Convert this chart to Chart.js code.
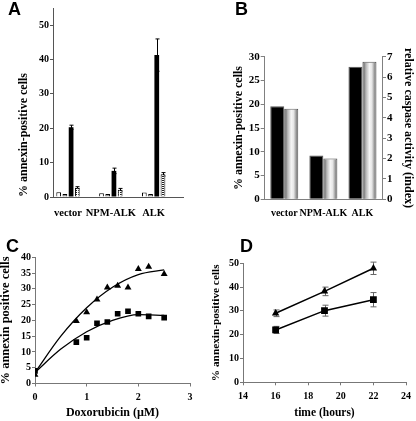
<!DOCTYPE html>
<html lang="en">
<head>
<meta charset="UTF-8">
<title>Annexin and caspase panels</title>
<script src="https://cdn.jsdelivr.net/npm/chart.js"></script>
<style>
  body { margin: 0; background: #fff; }
  #wrap { position: relative; width: 416px; height: 421px; overflow: hidden; }
  canvas { position: absolute; }
  .tag { position: absolute; font: bold 18px "Liberation Sans", Arial, sans-serif; line-height: 18px; }
</style>
</head>
<body>
<div id="wrap">
  <canvas id="chartA" width="208" height="230" style="left:0;top:0"></canvas>
  <canvas id="chartB" width="208" height="230" style="left:208px;top:0"></canvas>
  <canvas id="chartC" width="208" height="191" style="left:0;top:230px"></canvas>
  <canvas id="chartD" width="208" height="191" style="left:208px;top:230px"></canvas>
  <div class="tag" style="left:8px;top:0">A</div>
  <div class="tag" style="left:235px;top:0">B</div>
  <div class="tag" style="left:6px;top:237px">C</div>
  <div class="tag" style="left:240px;top:237px">D</div>
</div>
<script>
// panel A - annexin positive cells, 4 conditions per cell line
const catsA = ['vector', 'NPM-ALK', 'ALK'];
const openA = [1.4, 1.1, 1.3];
const greyA = [0.9, 0.9, 0.9];
const blackA = [20.3, 7.6, 41.3];
const blackErrA = [0.6, 0.8, 4.7];
const dotA = [2.7, 2.1, 6.6];
const dotErrA = [0.3, 0.4, 0.5];
const ticksA = [0, 10, 20, 30, 40, 50];

// panel B - annexin (left axis) and caspase index (right axis)
const catsB = ['vector', 'NPM-ALK', 'ALK'];
const annexinB = [19.6, 9.2, 27.9];
const caspaseB = [4.45, 2.0, 6.75];

// panel C - doxorubicin dose response
const doseC = [0, 0.8, 1.0, 1.2, 1.4, 1.6, 1.8, 2.0, 2.2, 2.5];
const triC = [2.8, 19.8, 22.6, 26.6, 30.4, 31.0, 30.4, 36.3, 37.0, 34.7];
const sqC = [4.0, 13.1, 14.5, 19.1, 19.5, 22.1, 22.9, 22.1, 21.3, 20.9];
// trend curves
const fitDoseC = [0, 0.5, 1.0, 1.5, 2.0, 2.5];
const triFitC = [3.5, 15.0, 24.0, 30.5, 34.5, 36.0];
const sqFitC = [3.5, 10.9, 16.4, 20.0, 21.8, 21.6];

// panel D - time course
const hoursD = [16, 19, 22];
const triD = [29.0, 38.2, 47.9];
const triErrD = [1.4, 1.8, 2.6];
const sqD = [22.0, 30.1, 34.7];
const sqErrD = [1.5, 2.3, 3.0];

Chart.defaults.font.family = '"Liberation Serif", "Times New Roman", serif';
Chart.defaults.font.weight = 'bold';
Chart.defaults.font.size = 10;
Chart.defaults.color = '#000';
Chart.defaults.animation = false;
Chart.defaults.plugins.legend.display = false;
Chart.defaults.plugins.tooltip.enabled = false;

const pts = (xs, ys) => ys.map((y, i) => ({ x: xs[i], y: y }));

// error bars drawn under the marks so bars hide the lower half
const errorBars = {
  id: 'errorBars',
  beforeDatasetsDraw(chart) {
    const ctx = chart.ctx;
    chart.data.datasets.forEach((ds, di) => {
      if (!ds.errors) return;
      const meta = chart.getDatasetMeta(di);
      const ys = chart.scales[meta.yAxisID];
      ctx.save();
      ctx.strokeStyle = ds.errorColor || '#000';
      ctx.lineWidth = 1;
      meta.data.forEach((el, i) => {
        const v = ds.data[i].y;
        const e = ds.errors[i];
        const top = ys.getPixelForValue(v + e);
        const bot = ys.getPixelForValue(v - e);
        const x = Math.round(el.x) + 0.5;
        const cap = ds.capWidth || 2;
        ctx.beginPath();
        ctx.moveTo(x, top); ctx.lineTo(x, bot);
        ctx.moveTo(x - cap, top); ctx.lineTo(x + cap, top);
        ctx.moveTo(x - cap, bot); ctx.lineTo(x + cap, bot);
        ctx.stroke();
      });
      ctx.restore();
    });
  }
};

// cylinder like shading for the grey bars of panel B
const shade = {
  id: 'shade',
  afterDatasetsDraw(chart) {
    const ctx = chart.ctx;
    chart.data.datasets.forEach((ds, di) => {
      if (!ds.shaded) return;
      chart.getDatasetMeta(di).data.forEach(el => {
        const p = el.getProps(['x', 'y', 'base', 'width'], true);
        const l = p.x - p.width / 2 + 1, r = p.x + p.width / 2 - 1;
        const g = ctx.createLinearGradient(l, 0, r, 0);
        g.addColorStop(0, '#6a6a6a');
        g.addColorStop(0.2, '#b5b5b5');
        g.addColorStop(0.5, '#f5f5f5');
        g.addColorStop(0.7, '#e6e6e6');
        g.addColorStop(1, '#7a7a7a');
        ctx.fillStyle = g;
        ctx.fillRect(l, p.y + 1, r - l, p.base - p.y - 1);
      });
    });
  }
};

function dotPattern() {
  const c = document.createElement('canvas');
  c.width = 3; c.height = 2;
  const g = c.getContext('2d');
  g.fillStyle = '#fff'; g.fillRect(0, 0, 3, 2);
  g.fillStyle = '#222'; g.fillRect(0, 0, 2, 1);
  return g.createPattern(c, 'repeat');
}

function yAxis(opts) {
  return Object.assign({
    grid: { display: true, drawOnChartArea: false, drawTicks: true, tickLength: 3, color: '#777' },
    border: { display: true, color: '#777' },
    ticks: { padding: 1 }
  }, opts);
}

// ---------- A ----------
new Chart(document.getElementById('chartA'), {
  type: 'bar',
  data: {
    datasets: [
      { data: pts([0, 1, 2], openA), backgroundColor: '#fff', borderColor: '#000', borderWidth: 1 },
      { data: pts([0, 1, 2], greyA), backgroundColor: '#999', borderColor: '#000', borderWidth: 1 },
      { data: pts([0, 1, 2], blackA), backgroundColor: '#000', errors: blackErrA, capWidth: 2 },
      { data: pts([0, 1, 2], dotA), backgroundColor: dotPattern(), borderColor: '#000', borderWidth: 1, errors: dotErrA, capWidth: 2 }
    ]
  },
  options: {
    responsive: false,
    layout: { padding: { top: 8, right: 25, left: 0, bottom: 0 } },
    datasets: { bar: { categoryPercentage: 0.58, barPercentage: 0.76 } },
    scales: {
      x: {
        type: 'linear', min: -0.35, max: 2.685, offset: false,
        afterBuildTicks: s => { s.ticks = catsA.map((c, i) => ({ value: i })); },
        afterFit: s => { s.height = 33; },
        grid: { display: false, drawTicks: false },
        border: { display: true, color: '#555' },
        ticks: { callback: v => catsA[v], autoSkip: false, maxRotation: 0, padding: 10, font: { size: 10.5 } }
      },
      y: yAxis({
        min: 0, max: 55,
        afterBuildTicks: s => { s.ticks = ticksA.map(v => ({ value: v })); },
        afterFit: s => { s.width = 53; },
        grid: { display: true, drawOnChartArea: false, drawTicks: true, tickLength: 3, color: '#555' },
        border: { display: true, color: '#555' },
        title: { display: true, text: '% annexin-positive cells', align: 'start',
                 font: { size: 12, lineHeight: 1 }, padding: { top: 18, bottom: 0 } }
      })
    }
  },
  plugins: [errorBars]
});

// ---------- B ----------
new Chart(document.getElementById('chartB'), {
  type: 'bar',
  data: {
    labels: catsB,
    datasets: [
      { data: annexinB, yAxisID: 'y', backgroundColor: '#000', borderColor: '#555', borderWidth: 1 },
      { data: caspaseB, yAxisID: 'y1', backgroundColor: '#ccc', borderColor: '#444', borderWidth: 1, shaded: true }
    ]
  },
  options: {
    responsive: false,
    layout: { padding: { top: 56.7, right: 0, left: 0, bottom: 0 } },
    datasets: { bar: { categoryPercentage: 0.716, barPercentage: 1.0 } },
    scales: {
      x: {
        afterFit: s => { s.height = 30.7; },
        grid: { display: false, drawTicks: false },
        border: { display: true, color: '#808080' },
        ticks: { autoSkip: false, maxRotation: 0, padding: 8, font: { size: 10 } }
      },
      y: yAxis({
        min: 0, max: 30,
        ticks: { stepSize: 5, padding: 1, font: { size: 11 } },
        grid: { display: true, drawOnChartArea: false, drawTicks: true, tickLength: 4, color: '#808080' },
        border: { display: true, color: '#808080' },
        afterFit: s => { s.width = 56.7; },
        title: { display: true, text: '% annexin-positive cells',
                 font: { size: 12, lineHeight: 1 }, padding: { top: 25, bottom: 0 } }
      }),
      y1: yAxis({
        position: 'right', min: 0, max: 7,
        ticks: { stepSize: 1, padding: 1, font: { size: 11 } },
        grid: { display: true, drawOnChartArea: false, drawTicks: true, tickLength: 4, color: '#808080' },
        border: { display: true, color: '#808080' },
        afterFit: s => { s.width = 34; },
        title: { display: true, text: 'relative caspase activity (index)',
                 font: { size: 12, lineHeight: 1 }, padding: { top: 2, bottom: 0 } }
      })
    }
  },
  plugins: [shade]
});

// ---------- C ----------
new Chart(document.getElementById('chartC'), {
  type: 'line',
  data: {
    datasets: [
      { data: pts(fitDoseC, triFitC), borderColor: '#000', borderWidth: 1.3, pointRadius: 0, cubicInterpolationMode: 'monotone' },
      { data: pts(fitDoseC, sqFitC), borderColor: '#000', borderWidth: 1.3, pointRadius: 0, cubicInterpolationMode: 'monotone' },
      { data: pts(doseC, triC), showLine: false, pointStyle: 'triangle', pointRadius: 4,
        pointBackgroundColor: '#000', pointBorderColor: '#000', pointBorderWidth: 0 },
      { data: pts(doseC, sqC), showLine: false, pointStyle: 'rect', pointRadius: 4,
        pointBackgroundColor: '#000', pointBorderColor: '#000', pointBorderWidth: 0 }
    ]
  },
  options: {
    responsive: false,
    layout: { padding: { top: 27.3, right: 18, left: 0, bottom: 0 } },
    scales: {
      x: {
        type: 'linear', min: 0, max: 3,
        ticks: { stepSize: 1, padding: 5 },
        grid: { display: true, drawOnChartArea: false, drawTicks: true, tickLength: 3, color: '#777' },
        border: { display: true, color: '#777' },
        afterFit: s => { s.height = 37.5; },
        title: { display: true, text: 'Doxorubicin (\u00b5M)',
                 font: { size: 12, lineHeight: 1 }, padding: { top: 0, bottom: 1.7 } }
      },
      y: yAxis({
        min: 0, max: 40,
        ticks: { stepSize: 5, padding: 1 },
        afterFit: s => { s.width = 35; },
        title: { display: true, text: '% annexin positive cells',
                 font: { size: 12.5, lineHeight: 1 }, padding: { top: 0, bottom: 0 } }
      })
    }
  }
});

// ---------- D ----------
new Chart(document.getElementById('chartD'), {
  type: 'line',
  data: {
    datasets: [
      { data: pts(hoursD, triD), borderColor: '#000', borderWidth: 1.5, pointStyle: 'triangle', pointRadius: 4.3,
        pointBackgroundColor: '#000', pointBorderColor: '#000', pointBorderWidth: 0,
        errors: triErrD, errorColor: '#666', capWidth: 3 },
      { data: pts(hoursD, sqD), borderColor: '#000', borderWidth: 1.5, pointStyle: 'rect', pointRadius: 4.8,
        pointBackgroundColor: '#000', pointBorderColor: '#000', pointBorderWidth: 0,
        errors: sqErrD, errorColor: '#666', capWidth: 3 }
    ]
  },
  options: {
    responsive: false,
    layout: { padding: { top: 33.3, right: 0, left: 0, bottom: 0 } },
    scales: {
      x: {
        type: 'linear', min: 14, max: 24,
        ticks: { stepSize: 2, padding: 5 },
        grid: { display: true, drawOnChartArea: false, drawTicks: true, tickLength: 3, color: '#777' },
        border: { display: true, color: '#777' },
        afterFit: s => { s.height = 38.7; },
        title: { display: true, text: 'time (hours)',
                 font: { size: 11.5, lineHeight: 1 }, padding: { top: 0, bottom: 2.5 } }
      },
      y: yAxis({
        min: 0, max: 50,
        ticks: { stepSize: 10, padding: 1 },
        afterFit: s => { s.width = 35; },
        title: { display: true, text: '% annexin-positive cells',
                 font: { size: 11.3, lineHeight: 1 }, padding: { top: 2.3, bottom: 0 } }
      })
    }
  },
  plugins: [errorBars]
});
</script>
</body>
</html>
